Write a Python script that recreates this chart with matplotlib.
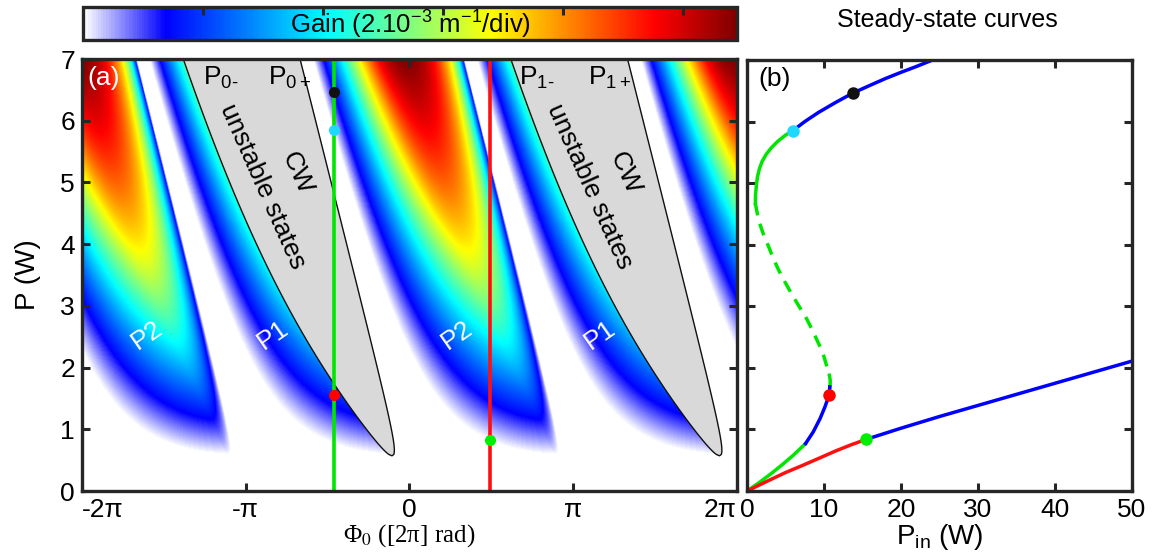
import numpy as np
import matplotlib
matplotlib.use("Agg")
import matplotlib.pyplot as plt
from matplotlib.colors import LinearSegmentedColormap

plt.rcParams['font.family'] = ['Liberation Sans', 'DejaVu Sans']
plt.rcParams['mathtext.fontset'] = 'custom'
plt.rcParams['mathtext.rm'] = 'Liberation Sans'
plt.rcParams['mathtext.it'] = 'Liberation Sans:italic'
plt.rcParams['mathtext.sf'] = 'Liberation Sans'

# ring cavity parameters
gamma_L = 0.30        # nonlinear phase per round trip (rad/W)
rho = 0.708           # round-trip power transmission
gain_top = 10.9e-3    # top of the gain scale (m^-1)
gain_ticks = [2e-3, 4e-3, 6e-3, 8e-3, 10e-3]

# operating points (detuning, power)
phi_green = -0.459 * np.pi
phi_red = 0.489 * np.pi
dots_green_P = [6.46, 5.85, 1.555]
dots_green_col = ['#111111', '#1fd8ff', '#ff0000']
dot_red_P = 0.83

# steady-state curves, panel (b)
upper_blue_pin = [5.93, 7.5, 9.3, 11.5, 13.7, 16.0, 18.0, 20.0, 21.9, 24.7]
upper_blue_p = [5.85, 6.00, 6.15, 6.31, 6.46, 6.59, 6.70, 6.80, 6.89, 7.03]
upper_green_pin = [5.93, 5.0, 4.0, 3.2, 2.5, 1.95, 1.6, 1.35, 1.2, 1.1, 1.08]
upper_green_p = [5.85, 5.78, 5.68, 5.58, 5.47, 5.35, 5.23, 5.10, 4.95, 4.80, 4.67]
middle_pin = [1.08, 1.5, 2.1, 2.8, 3.4, 4.1, 4.9, 5.8, 6.7, 7.6, 8.3, 8.9, 9.5, 10.0, 10.3, 10.55, 10.7]
middle_p = [4.67, 4.40, 4.18, 3.97, 3.78, 3.59, 3.40, 3.20, 3.01, 2.83, 2.66, 2.50, 2.34, 2.18, 2.05, 1.95, 1.88]
turn_green_pin = [10.7, 10.8, 10.8, 10.75]
turn_green_p = [1.88, 1.80, 1.74, 1.69]
lower_green_pin = [0, 1.5, 3.0, 4.5, 6.0, 7.6]
lower_green_p = [0, 0.13, 0.27, 0.42, 0.58, 0.77]
lower_blue_pin = [7.6, 8.6, 9.5, 10.1, 10.5, 10.7, 10.75]
lower_blue_p = [0.77, 0.96, 1.18, 1.36, 1.50, 1.60, 1.69]
red_pin = [0, 2.8, 5.0, 7.1, 9.5, 11.5, 13.5, 15.5]
red_p = [0, 0.17, 0.30, 0.41, 0.54, 0.65, 0.75, 0.84]
blue_pin = [15.5, 20.0, 25.0, 30.0, 35.0, 40.0, 45.0, 50.0]
blue_p = [0.84, 1.02, 1.21, 1.39, 1.57, 1.75, 1.93, 2.11]
dots_b_pin = [13.7, 5.93, 10.7, 15.5]
dots_b_p = [6.46, 5.85, 1.555, 0.84]
dots_b_col = ['#111111', '#1fd8ff', '#ff0000', '#00ee00']

GREEN = '#00e600'
RED = '#ff1010'
BLUE = '#0000ff'

# colormap: white into jet
cmap = LinearSegmentedColormap.from_list('wjet', [
    (0.0, (1, 1, 1)), (0.125, (0, 0, 1)), (0.375, (0, 1, 1)),
    (0.625, (1, 1, 0)), (0.875, (1, 0, 0)), (1.0, (0.5, 0, 0))])

# MI gain of the Ikeda map, normal dispersion, maximised over frequency
phi0 = np.linspace(-2 * np.pi, 2 * np.pi, 720)
P = np.linspace(0, 7, 400)
xw = np.linspace(1e-4, 40, 1000)
lnlam = np.zeros((P.size, phi0.size))
for i, p in enumerate(P):
    kL = np.sqrt(xw * (xw + 2 * gamma_L * p))
    C = np.cos(kL)
    D = (xw + gamma_L * p) * np.sin(kL) / kL
    psi = phi0 + gamma_L * p
    delta = np.cos(psi)[:, None] * C[None, :] - np.sin(psi)[:, None] * D[None, :]
    dmax = np.abs(delta).max(axis=1)
    lam = np.sqrt(rho) * (dmax + np.sqrt(np.clip(dmax ** 2 - 1, 0, None)))
    lnlam[i] = np.log(np.maximum(lam, 1.0))
gain = lnlam / lnlam.max() * gain_top

# CW unstable (middle branch) region
c = (1 + rho) / (2 * np.sqrt(rho))
p_tip = np.sqrt(c ** 2 - 1) / gamma_L
Pb = np.linspace(p_tip, 7.2, 300)
u = gamma_L * Pb
centre = -u - np.arctan(u)
half = np.arccos(np.clip(c / np.sqrt(1 + u ** 2), -1, 1))

fig = plt.figure(figsize=(11.53, 5.54), dpi=100)
ax = fig.add_axes([0.0711, 0.1137, 0.5681, 0.7798])
axb = fig.add_axes([0.6479, 0.1137, 0.3339, 0.7780])
cax = fig.add_axes([0.0720, 0.9278, 0.5672, 0.0596])

im = ax.imshow(gain, extent=[-2 * np.pi, 2 * np.pi, 0, 7], origin='lower',
               aspect='auto', cmap=cmap, vmin=0, vmax=gain_top, interpolation='bilinear')
for shift in (0, 2 * np.pi):
    ax.fill_betweenx(Pb, centre - half + shift, centre + half + shift,
                     facecolor='#d9d9d9', edgecolor='#111111', lw=1.0, zorder=2)

ax.axvline(phi_green, color=GREEN, lw=2.6, zorder=3)
ax.axvline(phi_red, color=RED, lw=2.6, zorder=3)
for pp, col in zip(dots_green_P, dots_green_col):
    ax.plot(phi_green, pp, 'o', ms=8, color=col, mec='none', zorder=4)
ax.plot(phi_red, dot_red_P, 'o', ms=8, color='#00ee00', mec='none', zorder=4)

ax.set_xlim(-2 * np.pi, 2 * np.pi)
ax.set_ylim(0, 7)
ax.set_xticks([-2 * np.pi, -np.pi, 0, np.pi, 2 * np.pi])
ax.set_xticklabels(['-2π', '-π', '0', 'π', '2π'])
xt = ax.get_xticklabels()
xt[0].set_ha('left')
xt[-1].set_ha('right')
ax.set_yticks(range(8))
ax.set_ylabel('P (W)', fontsize=20, labelpad=14)
ax.set_xlabel('Φ$_0$ ([2π] rad)', fontsize=18, family=['Liberation Serif'],
              math_fontfamily='stix', labelpad=0)

txt = dict(fontsize=19, zorder=5)
ax.text(-1.97 * np.pi, 6.69, '(a)', color='white', ha='left', va='center', **txt)
ax.text(-1.15 * np.pi, 6.69, 'P$_{0‐}$', ha='center', va='center', **txt)
ax.text(-0.734 * np.pi, 6.69, 'P$_{0+}$', ha='center', va='center', **txt)
ax.text(0.777 * np.pi, 6.69, 'P$_{1‐}$', ha='center', va='center', **txt)
ax.text(1.223 * np.pi, 6.69, 'P$_{1+}$', ha='center', va='center', **txt)
for shift in (0, 2 * np.pi):
    ax.text(-0.685 * np.pi + shift, 5.15, 'CW', rotation=-66, ha='center', va='center', **txt)
    ax.text(-0.899 * np.pi + shift, 4.94, 'unstable states', rotation=-66,
            ha='center', va='center', **txt)
for xx, lab in [(-1.603, 'P2'), (-0.832, 'P1'), (0.292, 'P2'), (1.162, 'P1')]:
    ax.text(xx * np.pi, 2.52, lab, color='white', rotation=35, ha='center', va='center', **txt)

# panel (b)
lw = 2.5
axb.plot(upper_blue_pin, upper_blue_p, color=BLUE, lw=lw)
axb.plot(upper_green_pin, upper_green_p, color=GREEN, lw=lw)
axb.plot(middle_pin, middle_p, color=GREEN, lw=lw, ls=(0, (3.5, 2.5)))
axb.plot(turn_green_pin, turn_green_p, color=GREEN, lw=lw)
axb.plot(lower_green_pin, lower_green_p, color=GREEN, lw=lw)
axb.plot(lower_blue_pin, lower_blue_p, color=BLUE, lw=lw)
axb.plot(red_pin, red_p, color=RED, lw=lw)
axb.plot(blue_pin, blue_p, color=BLUE, lw=lw)
for xx, yy, col in zip(dots_b_pin, dots_b_p, dots_b_col):
    axb.plot(xx, yy, 'o', ms=9, color=col, mec='none', zorder=4)
axb.set_xlim(0, 50)
axb.set_ylim(0, 7)
axb.set_xticks([0, 10, 20, 30, 40, 50])
axb.set_yticks(range(8))
axb.set_yticklabels([])
axb.set_xlabel('P$_{\\mathregular{in}}$ (W)', fontsize=20, labelpad=0)
axb.text(1.5, 6.69, '(b)', ha='left', va='center', **txt)

for a in (ax, axb):
    a.tick_params(direction='in', length=6, width=2.2, labelsize=19,
                  top=True, right=True, color='#262626', pad=5)
    for s in a.spines.values():
        s.set_linewidth(2.4)
        s.set_color('#262626')
        s.set_zorder(6)

cb = fig.colorbar(im, cax=cax, orientation='horizontal', ticks=gain_ticks)
cb.ax.xaxis.set_ticks_position('top')
cb.ax.tick_params(direction='in', length=6, width=2.2, labeltop=False, labelbottom=False,
                  color='#262626')
cb.outline.set_linewidth(2.4)
cb.outline.set_edgecolor('#262626')
cax.text(0.5, 0.45, 'Gain (2.10$^{-3}$ m$^{-1}$/div)', transform=cax.transAxes,
         ha='center', va='center', fontsize=18.5)
fig.text(0.822, 0.963, 'Steady-state curves', ha='center', va='center', fontsize=18)

fig.savefig('out.png', dpi=100)
